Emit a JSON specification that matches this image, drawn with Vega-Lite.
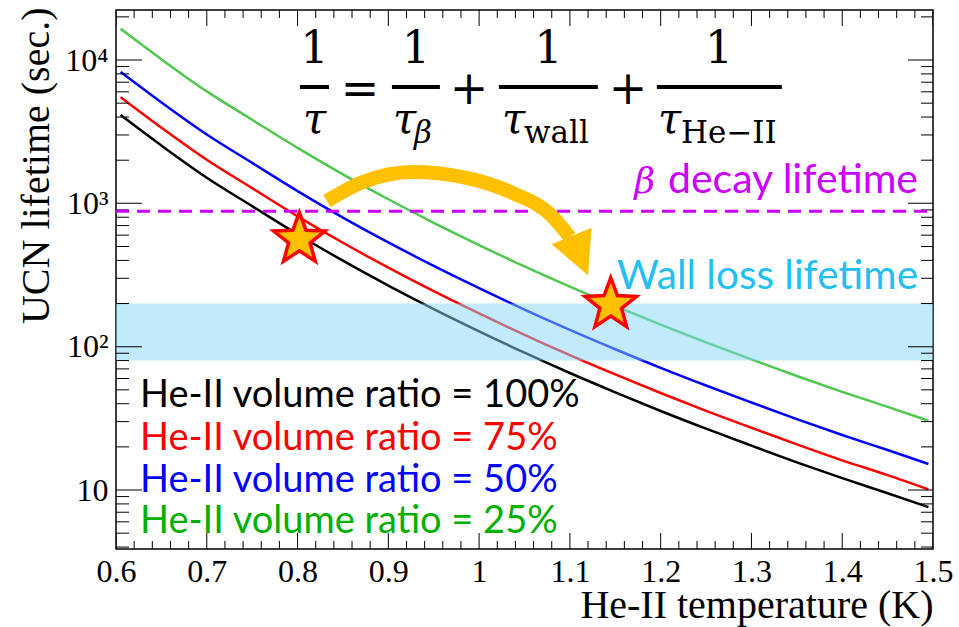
{
  "$schema": "https://vega.github.io/schema/vega-lite/v6.json",
  "width": 817,
  "height": 539,
  "autosize": {"type": "none"},
  "padding": {"left": 116, "top": 10, "right": 26, "bottom": 78},
  "background": "white",
  "config": {
    "view": {"stroke": "black", "strokeWidth": 1.5},
    "axis": {"domain": false, "grid": false, "tickColor": "black", "tickWidth": 1, "labelColor": "black", "titleColor": "black", "zindex": 1, "labelFlush": false, "labelOverlap": false, "labelBound": false}
  },
  "resolve": {"axis": {"x": "independent", "y": "independent"}, "scale": {"x": "independent", "y": "independent", "color": "independent"}},
  "datasets": {
    "curves": [
      {"T": 0.605, "tau": 4130, "ratio": "100%"}, {"T": 0.65, "tau": 2530, "ratio": "100%"}, {"T": 0.7, "tau": 1510, "ratio": "100%"}, {"T": 0.75, "tau": 957, "ratio": "100%"}, {"T": 0.8, "tau": 609, "ratio": "100%"}, {"T": 0.85, "tau": 398, "ratio": "100%"}, {"T": 0.9, "tau": 267, "ratio": "100%"}, {"T": 0.95, "tau": 183, "ratio": "100%"}, {"T": 1.0, "tau": 128, "ratio": "100%"}, {"T": 1.05, "tau": 90.8, "ratio": "100%"}, {"T": 1.1, "tau": 65.5, "ratio": "100%"}, {"T": 1.15, "tau": 48.0, "ratio": "100%"}, {"T": 1.2, "tau": 35.6, "ratio": "100%"}, {"T": 1.25, "tau": 26.8, "ratio": "100%"}, {"T": 1.3, "tau": 20.4, "ratio": "100%"}, {"T": 1.35, "tau": 15.6, "ratio": "100%"}, {"T": 1.4, "tau": 12.1, "ratio": "100%"}, {"T": 1.45, "tau": 9.5, "ratio": "100%"}, {"T": 1.495, "tau": 7.6, "ratio": "100%"},
      {"T": 0.605, "tau": 5507, "ratio": "75%"}, {"T": 0.65, "tau": 3373, "ratio": "75%"}, {"T": 0.7, "tau": 2013, "ratio": "75%"}, {"T": 0.75, "tau": 1276, "ratio": "75%"}, {"T": 0.8, "tau": 812, "ratio": "75%"}, {"T": 0.85, "tau": 531, "ratio": "75%"}, {"T": 0.9, "tau": 356, "ratio": "75%"}, {"T": 0.95, "tau": 244, "ratio": "75%"}, {"T": 1.0, "tau": 170.7, "ratio": "75%"}, {"T": 1.05, "tau": 121.1, "ratio": "75%"}, {"T": 1.1, "tau": 87.3, "ratio": "75%"}, {"T": 1.15, "tau": 64.0, "ratio": "75%"}, {"T": 1.2, "tau": 47.5, "ratio": "75%"}, {"T": 1.25, "tau": 35.7, "ratio": "75%"}, {"T": 1.3, "tau": 27.2, "ratio": "75%"}, {"T": 1.35, "tau": 20.8, "ratio": "75%"}, {"T": 1.4, "tau": 16.1, "ratio": "75%"}, {"T": 1.45, "tau": 12.7, "ratio": "75%"}, {"T": 1.495, "tau": 10.1, "ratio": "75%"},
      {"T": 0.605, "tau": 8260, "ratio": "50%"}, {"T": 0.65, "tau": 5060, "ratio": "50%"}, {"T": 0.7, "tau": 3020, "ratio": "50%"}, {"T": 0.75, "tau": 1914, "ratio": "50%"}, {"T": 0.8, "tau": 1218, "ratio": "50%"}, {"T": 0.85, "tau": 796, "ratio": "50%"}, {"T": 0.9, "tau": 534, "ratio": "50%"}, {"T": 0.95, "tau": 366, "ratio": "50%"}, {"T": 1.0, "tau": 256, "ratio": "50%"}, {"T": 1.05, "tau": 181.6, "ratio": "50%"}, {"T": 1.1, "tau": 131, "ratio": "50%"}, {"T": 1.15, "tau": 96, "ratio": "50%"}, {"T": 1.2, "tau": 71.2, "ratio": "50%"}, {"T": 1.25, "tau": 53.6, "ratio": "50%"}, {"T": 1.3, "tau": 40.8, "ratio": "50%"}, {"T": 1.35, "tau": 31.2, "ratio": "50%"}, {"T": 1.4, "tau": 24.2, "ratio": "50%"}, {"T": 1.45, "tau": 19.0, "ratio": "50%"}, {"T": 1.495, "tau": 15.2, "ratio": "50%"},
      {"T": 0.605, "tau": 16520, "ratio": "25%"}, {"T": 0.65, "tau": 10120, "ratio": "25%"}, {"T": 0.7, "tau": 6040, "ratio": "25%"}, {"T": 0.75, "tau": 3828, "ratio": "25%"}, {"T": 0.8, "tau": 2436, "ratio": "25%"}, {"T": 0.85, "tau": 1592, "ratio": "25%"}, {"T": 0.9, "tau": 1068, "ratio": "25%"}, {"T": 0.95, "tau": 732, "ratio": "25%"}, {"T": 1.0, "tau": 512, "ratio": "25%"}, {"T": 1.05, "tau": 363, "ratio": "25%"}, {"T": 1.1, "tau": 262, "ratio": "25%"}, {"T": 1.15, "tau": 192, "ratio": "25%"}, {"T": 1.2, "tau": 142.4, "ratio": "25%"}, {"T": 1.25, "tau": 107.2, "ratio": "25%"}, {"T": 1.3, "tau": 81.6, "ratio": "25%"}, {"T": 1.35, "tau": 62.4, "ratio": "25%"}, {"T": 1.4, "tau": 48.4, "ratio": "25%"}, {"T": 1.45, "tau": 38.0, "ratio": "25%"}, {"T": 1.495, "tau": 30.4, "ratio": "25%"}
    ],
    "xmaj": [{"v": 0.6}, {"v": 0.7}, {"v": 0.8}, {"v": 0.9}, {"v": 1.0}, {"v": 1.1}, {"v": 1.2}, {"v": 1.3}, {"v": 1.4}, {"v": 1.5}],
    "xmin": [{"v": 0.62}, {"v": 0.64}, {"v": 0.66}, {"v": 0.68}, {"v": 0.72}, {"v": 0.74}, {"v": 0.76}, {"v": 0.78}, {"v": 0.82}, {"v": 0.84}, {"v": 0.86}, {"v": 0.88}, {"v": 0.92}, {"v": 0.94}, {"v": 0.96}, {"v": 0.98}, {"v": 1.02}, {"v": 1.04}, {"v": 1.06}, {"v": 1.08}, {"v": 1.12}, {"v": 1.14}, {"v": 1.16}, {"v": 1.18}, {"v": 1.22}, {"v": 1.24}, {"v": 1.26}, {"v": 1.28}, {"v": 1.32}, {"v": 1.34}, {"v": 1.36}, {"v": 1.38}, {"v": 1.42}, {"v": 1.44}, {"v": 1.46}, {"v": 1.48}],
    "ymaj": [{"v": 10}, {"v": 100}, {"v": 1000}, {"v": 10000}],
    "ymin": [{"v": 4}, {"v": 5}, {"v": 6}, {"v": 7}, {"v": 8}, {"v": 9}, {"v": 20}, {"v": 30}, {"v": 40}, {"v": 50}, {"v": 60}, {"v": 70}, {"v": 80}, {"v": 90}, {"v": 200}, {"v": 300}, {"v": 400}, {"v": 500}, {"v": 600}, {"v": 700}, {"v": 800}, {"v": 900}, {"v": 2000}, {"v": 3000}, {"v": 4000}, {"v": 5000}, {"v": 6000}, {"v": 7000}, {"v": 8000}, {"v": 9000}, {"v": 20000}],
    "band": [{"T": 0.6, "T2": 1.5, "lo": 80, "hi": 200}],
    "beta": [{"T": 0.6, "T2": 1.5, "tau": 880}],
    "stars": [{"T": 0.802, "tau": 560}, {"T": 1.145, "tau": 196}],
    "arrow": [{"i": 1, "T": 0.8324, "tau": 1038}, {"i": 2, "T": 0.872, "tau": 1408}, {"i": 3, "T": 0.9271, "tau": 1653}, {"i": 4, "T": 0.9822, "tau": 1526}, {"i": 5, "T": 1.0372, "tau": 1180}, {"i": 6, "T": 1.078, "tau": 842}, {"i": 7, "T": 1.1, "tau": 582}],
    "arrowhead": [{"T": 1.111, "tau": 431}],
    "numer": [{"T": 0.8186, "tau": 9484, "s": "1"}, {"T": 0.9305, "tau": 9484, "s": "1"}, {"T": 1.0764, "tau": 9484, "s": "1"}, {"T": 1.2642, "tau": 9484, "s": "1"}],
    "ops": [{"T": 0.8688, "tau": 4932, "s": "="}, {"T": 0.9889, "tau": 4932, "s": "+"}, {"T": 1.164, "tau": 4932, "s": "+"}],
    "bars": [{"T": 0.8026, "T2": 0.8346, "tau": 6479}, {"T": 0.904, "T2": 0.9568, "tau": 6479}, {"T": 1.0218, "T2": 1.1308, "tau": 6479}, {"T": 1.1958, "T2": 1.3335, "tau": 6479}],
    "taus": [{"T": 0.806, "tau": 3095, "s": "τ"}, {"T": 0.9051, "tau": 3095, "s": "τ"}, {"T": 1.0252, "tau": 3095, "s": "τ"}, {"T": 1.197, "tau": 3095, "s": "τ"}],
    "subit": [{"T": 0.9283, "tau": 2635, "s": "β"}],
    "subup": [{"T": 1.0494, "tau": 2635, "s": "wall"}, {"T": 1.2224, "tau": 2635, "s": "He−II"}],
    "legend": [{"T": 0.6264, "tau": 38.07, "ratio": "100%", "s": "He-II volume ratio = 100%"}, {"T": 0.6264, "tau": 18.99, "ratio": "75%", "s": "He-II volume ratio = 75%"}, {"T": 0.6264, "tau": 9.72, "ratio": "50%", "s": "He-II volume ratio = 50%"}, {"T": 0.6264, "tau": 5.003, "ratio": "25%", "s": "He-II volume ratio = 25%"}],
    "betaLabel": [{"T": 1.4835, "tau": 1186, "s": "decay lifetime"}],
    "betaSym": [{"T": 1.1937, "tau": 1186, "s": "β"}],
    "wallLabel": [{"T": 1.4835, "tau": 251, "s": "Wall loss lifetime"}]
  },
  "layer": [
    {
      "data": {"name": "curves"},
      "mark": {"type": "line", "strokeWidth": 2.5, "clip": true, "interpolate": "monotone"},
      "encoding": {
        "x": {"field": "T", "type": "quantitative", "scale": {"domain": [0.6, 1.5], "nice": false, "zero": false}, "axis": null},
        "y": {"field": "tau", "type": "quantitative", "scale": {"type": "log", "domain": [3.877, 22330], "nice": false}, "axis": null},
        "color": {"field": "ratio", "type": "nominal", "scale": {"domain": ["100%", "75%", "50%", "25%"], "range": ["#000000", "#FF0000", "#0000FF", "#4FC84F"]}, "legend": null}
      }
    },
    {
      "data": {"name": "band"},
      "mark": {"type": "rect", "fill": "#83D5F7", "opacity": 0.5},
      "encoding": {
        "x": {"field": "T", "type": "quantitative", "scale": {"domain": [0.6, 1.5], "nice": false, "zero": false}, "axis": null},
        "x2": {"field": "T2"},
        "y": {"field": "lo", "type": "quantitative", "scale": {"type": "log", "domain": [3.877, 22330], "nice": false}, "axis": null},
        "y2": {"field": "hi"}
      }
    },
    {
      "data": {"name": "xmaj"},
      "mark": {"type": "tick", "orient": "vertical", "size": 32, "thickness": 1, "color": "black", "clip": true, "opacity": 1},
      "encoding": {
        "x": {"field": "v", "type": "quantitative", "scale": {"domain": [0.6, 1.5], "nice": false, "zero": false}, "axis": null},
        "y": {"datum": 3.877, "type": "quantitative", "scale": {"type": "log", "domain": [3.877, 22330], "nice": false}, "axis": null}
      }
    },
    {
      "data": {"name": "xmin"},
      "mark": {"type": "tick", "orient": "vertical", "size": 16, "thickness": 1, "color": "black", "clip": true, "opacity": 1},
      "encoding": {
        "x": {"field": "v", "type": "quantitative", "scale": {"domain": [0.6, 1.5], "nice": false, "zero": false}, "axis": null},
        "y": {"datum": 3.877, "type": "quantitative", "scale": {"type": "log", "domain": [3.877, 22330], "nice": false}, "axis": null}
      }
    },
    {
      "data": {"name": "xmaj"},
      "mark": {"type": "tick", "orient": "vertical", "size": 32, "thickness": 1, "color": "black", "clip": true, "opacity": 1},
      "encoding": {
        "x": {"field": "v", "type": "quantitative", "scale": {"domain": [0.6, 1.5], "nice": false, "zero": false}, "axis": null},
        "y": {"datum": 22330, "type": "quantitative", "scale": {"type": "log", "domain": [3.877, 22330], "nice": false}, "axis": null}
      }
    },
    {
      "data": {"name": "xmin"},
      "mark": {"type": "tick", "orient": "vertical", "size": 16, "thickness": 1, "color": "black", "clip": true, "opacity": 1},
      "encoding": {
        "x": {"field": "v", "type": "quantitative", "scale": {"domain": [0.6, 1.5], "nice": false, "zero": false}, "axis": null},
        "y": {"datum": 22330, "type": "quantitative", "scale": {"type": "log", "domain": [3.877, 22330], "nice": false}, "axis": null}
      }
    },
    {
      "data": {"name": "ymaj"},
      "mark": {"type": "tick", "orient": "horizontal", "size": 52, "thickness": 1, "color": "black", "clip": true, "opacity": 1},
      "encoding": {
        "x": {"datum": 0.6, "type": "quantitative", "scale": {"domain": [0.6, 1.5], "nice": false, "zero": false}, "axis": null},
        "y": {"field": "v", "type": "quantitative", "scale": {"type": "log", "domain": [3.877, 22330], "nice": false}, "axis": null}
      }
    },
    {
      "data": {"name": "ymin"},
      "mark": {"type": "tick", "orient": "horizontal", "size": 26, "thickness": 1, "color": "black", "clip": true, "opacity": 1},
      "encoding": {
        "x": {"datum": 0.6, "type": "quantitative", "scale": {"domain": [0.6, 1.5], "nice": false, "zero": false}, "axis": null},
        "y": {"field": "v", "type": "quantitative", "scale": {"type": "log", "domain": [3.877, 22330], "nice": false}, "axis": null}
      }
    },
    {
      "data": {"name": "ymaj"},
      "mark": {"type": "tick", "orient": "horizontal", "size": 50, "thickness": 1, "color": "black", "clip": true, "opacity": 1},
      "encoding": {
        "x": {"datum": 1.5, "type": "quantitative", "scale": {"domain": [0.6, 1.5], "nice": false, "zero": false}, "axis": null},
        "y": {"field": "v", "type": "quantitative", "scale": {"type": "log", "domain": [3.877, 22330], "nice": false}, "axis": null}
      }
    },
    {
      "data": {"name": "ymin"},
      "mark": {"type": "tick", "orient": "horizontal", "size": 24, "thickness": 1, "color": "black", "clip": true, "opacity": 1},
      "encoding": {
        "x": {"datum": 1.5, "type": "quantitative", "scale": {"domain": [0.6, 1.5], "nice": false, "zero": false}, "axis": null},
        "y": {"field": "v", "type": "quantitative", "scale": {"type": "log", "domain": [3.877, 22330], "nice": false}, "axis": null}
      }
    },
    {
      "data": {"name": "beta"},
      "mark": {"type": "rule", "color": "#CC00FF", "strokeWidth": 3, "strokeDash": [13, 8]},
      "encoding": {
        "x": {"field": "T", "type": "quantitative", "scale": {"domain": [0.6, 1.5], "nice": false, "zero": false}, "axis": {"orient": "bottom", "values": [0.6, 0.7, 0.8, 0.9, 1.0, 1.1, 1.2, 1.3, 1.4, 1.5], "ticks": false, "tickSize": 0, "labels": true, "format": "~g", "labelFont": "Liberation Serif", "labelFontSize": 32, "labelPadding": 7, "title": "He-II temperature (K)", "titleFont": "Liberation Serif", "titleFontSize": 40, "titleFontWeight": "normal", "titleAnchor": "end", "titleAlign": "right", "titleX": 817, "titleY": 68, "titleBaseline": "alphabetic"}},
        "x2": {"field": "T2"},
        "y": {"field": "tau", "type": "quantitative", "scale": {"type": "log", "domain": [3.877, 22330], "nice": false}, "axis": {"orient": "left", "values": [10, 100, 1000, 10000], "ticks": false, "tickSize": 0, "labels": true, "labelExpr": "datum.value == 10 ? '10' : datum.value == 100 ? '10²' : datum.value == 1000 ? '10³' : '10⁴'", "labelFont": "Liberation Serif", "labelFontSize": 32, "labelPadding": 8, "title": "UCN lifetime (sec.)", "titleFont": "Liberation Serif", "titleFontSize": 40, "titleFontWeight": "normal", "titleAngle": -90, "titleAlign": "right", "titleBaseline": "middle", "titleX": -80, "titleY": -3}}
      }
    },
    {
      "data": {"name": "stars"},
      "mark": {"type": "point", "shape": "M0,-1L0.247,-0.34L0.951,-0.309L0.4,0.13L0.588,0.809L0,0.42L-0.588,0.809L-0.4,0.13L-0.951,-0.309L-0.247,-0.34Z", "filled": true, "fill": "#FFC000", "stroke": "#FF0000", "strokeWidth": 3.5, "size": 2916, "opacity": 1},
      "encoding": {
        "x": {"field": "T", "type": "quantitative", "scale": {"domain": [0.6, 1.5], "nice": false, "zero": false}, "axis": null},
        "y": {"field": "tau", "type": "quantitative", "scale": {"type": "log", "domain": [3.877, 22330], "nice": false}, "axis": null}
      }
    },
    {
      "data": {"name": "arrow"},
      "mark": {"type": "line", "color": "#FFC000", "strokeWidth": 14, "strokeCap": "butt", "interpolate": "monotone"},
      "encoding": {
        "x": {"field": "T", "type": "quantitative", "scale": {"domain": [0.6, 1.5], "nice": false, "zero": false}, "axis": null},
        "y": {"field": "tau", "type": "quantitative", "scale": {"type": "log", "domain": [3.877, 22330], "nice": false}, "axis": null},
        "order": {"field": "i", "type": "quantitative"}
      }
    },
    {
      "data": {"name": "arrowhead"},
      "mark": {"type": "point", "shape": "M-1,-1L1,-1L0,1Z", "filled": true, "fill": "#FFC000", "strokeWidth": 0, "size": 1849, "angle": -22.6, "opacity": 1},
      "encoding": {
        "x": {"field": "T", "type": "quantitative", "scale": {"domain": [0.6, 1.5], "nice": false, "zero": false}, "axis": null},
        "y": {"field": "tau", "type": "quantitative", "scale": {"type": "log", "domain": [3.877, 22330], "nice": false}, "axis": null}
      }
    },
    {
      "data": {"name": "bars"},
      "mark": {"type": "rule", "color": "black", "strokeWidth": 4},
      "encoding": {
        "x": {"field": "T", "type": "quantitative", "scale": {"domain": [0.6, 1.5], "nice": false, "zero": false}, "axis": null},
        "x2": {"field": "T2"},
        "y": {"field": "tau", "type": "quantitative", "scale": {"type": "log", "domain": [3.877, 22330], "nice": false}, "axis": null}
      }
    },
    {
      "data": {"name": "numer"},
      "mark": {"type": "text", "font": "DejaVu Serif", "fontSize": 44, "align": "center", "baseline": "alphabetic", "color": "black"},
      "encoding": {
        "x": {"field": "T", "type": "quantitative", "scale": {"domain": [0.6, 1.5], "nice": false, "zero": false}, "axis": null},
        "y": {"field": "tau", "type": "quantitative", "scale": {"type": "log", "domain": [3.877, 22330], "nice": false}, "axis": null},
        "text": {"field": "s"}
      }
    },
    {
      "data": {"name": "ops"},
      "mark": {"type": "text", "font": "DejaVu Serif", "fontSize": 46, "align": "center", "baseline": "alphabetic", "color": "black"},
      "encoding": {
        "x": {"field": "T", "type": "quantitative", "scale": {"domain": [0.6, 1.5], "nice": false, "zero": false}, "axis": null},
        "y": {"field": "tau", "type": "quantitative", "scale": {"type": "log", "domain": [3.877, 22330], "nice": false}, "axis": null},
        "text": {"field": "s"}
      }
    },
    {
      "data": {"name": "taus"},
      "mark": {"type": "text", "font": "DejaVu Serif", "fontStyle": "italic", "fontSize": 42, "align": "left", "baseline": "alphabetic", "color": "black"},
      "encoding": {
        "x": {"field": "T", "type": "quantitative", "scale": {"domain": [0.6, 1.5], "nice": false, "zero": false}, "axis": null},
        "y": {"field": "tau", "type": "quantitative", "scale": {"type": "log", "domain": [3.877, 22330], "nice": false}, "axis": null},
        "text": {"field": "s"}
      }
    },
    {
      "data": {"name": "subit"},
      "mark": {"type": "text", "font": "DejaVu Serif", "fontStyle": "italic", "fontSize": 31, "align": "left", "baseline": "alphabetic", "color": "black"},
      "encoding": {
        "x": {"field": "T", "type": "quantitative", "scale": {"domain": [0.6, 1.5], "nice": false, "zero": false}, "axis": null},
        "y": {"field": "tau", "type": "quantitative", "scale": {"type": "log", "domain": [3.877, 22330], "nice": false}, "axis": null},
        "text": {"field": "s"}
      }
    },
    {
      "data": {"name": "subup"},
      "mark": {"type": "text", "font": "DejaVu Serif", "fontSize": 31, "align": "left", "baseline": "alphabetic", "color": "black"},
      "encoding": {
        "x": {"field": "T", "type": "quantitative", "scale": {"domain": [0.6, 1.5], "nice": false, "zero": false}, "axis": null},
        "y": {"field": "tau", "type": "quantitative", "scale": {"type": "log", "domain": [3.877, 22330], "nice": false}, "axis": null},
        "text": {"field": "s"}
      }
    },
    {
      "data": {"name": "legend"},
      "mark": {"type": "text", "font": "Lato", "fontSize": 38, "align": "left", "baseline": "alphabetic"},
      "encoding": {
        "x": {"field": "T", "type": "quantitative", "scale": {"domain": [0.6, 1.5], "nice": false, "zero": false}, "axis": null},
        "y": {"field": "tau", "type": "quantitative", "scale": {"type": "log", "domain": [3.877, 22330], "nice": false}, "axis": null},
        "text": {"field": "s"},
        "color": {"field": "ratio", "type": "nominal", "scale": {"domain": ["100%", "75%", "50%", "25%"], "range": ["#000000", "#FF0000", "#0000FF", "#00B000"]}, "legend": null}
      }
    },
    {
      "data": {"name": "betaLabel"},
      "mark": {"type": "text", "font": "Lato", "fontSize": 41, "align": "right", "baseline": "alphabetic", "color": "#CC00FF"},
      "encoding": {
        "x": {"field": "T", "type": "quantitative", "scale": {"domain": [0.6, 1.5], "nice": false, "zero": false}, "axis": null},
        "y": {"field": "tau", "type": "quantitative", "scale": {"type": "log", "domain": [3.877, 22330], "nice": false}, "axis": null},
        "text": {"field": "s"}
      }
    },
    {
      "data": {"name": "betaSym"},
      "mark": {"type": "text", "font": "DejaVu Serif", "fontStyle": "italic", "fontSize": 36, "align": "right", "baseline": "alphabetic", "color": "#CC00FF"},
      "encoding": {
        "x": {"field": "T", "type": "quantitative", "scale": {"domain": [0.6, 1.5], "nice": false, "zero": false}, "axis": null},
        "y": {"field": "tau", "type": "quantitative", "scale": {"type": "log", "domain": [3.877, 22330], "nice": false}, "axis": null},
        "text": {"field": "s"}
      }
    },
    {
      "data": {"name": "wallLabel"},
      "mark": {"type": "text", "font": "Lato", "fontSize": 40.5, "align": "right", "baseline": "alphabetic", "color": "#22BFF2"},
      "encoding": {
        "x": {"field": "T", "type": "quantitative", "scale": {"domain": [0.6, 1.5], "nice": false, "zero": false}, "axis": null},
        "y": {"field": "tau", "type": "quantitative", "scale": {"type": "log", "domain": [3.877, 22330], "nice": false}, "axis": null},
        "text": {"field": "s"}
      }
    }
  ]
}
